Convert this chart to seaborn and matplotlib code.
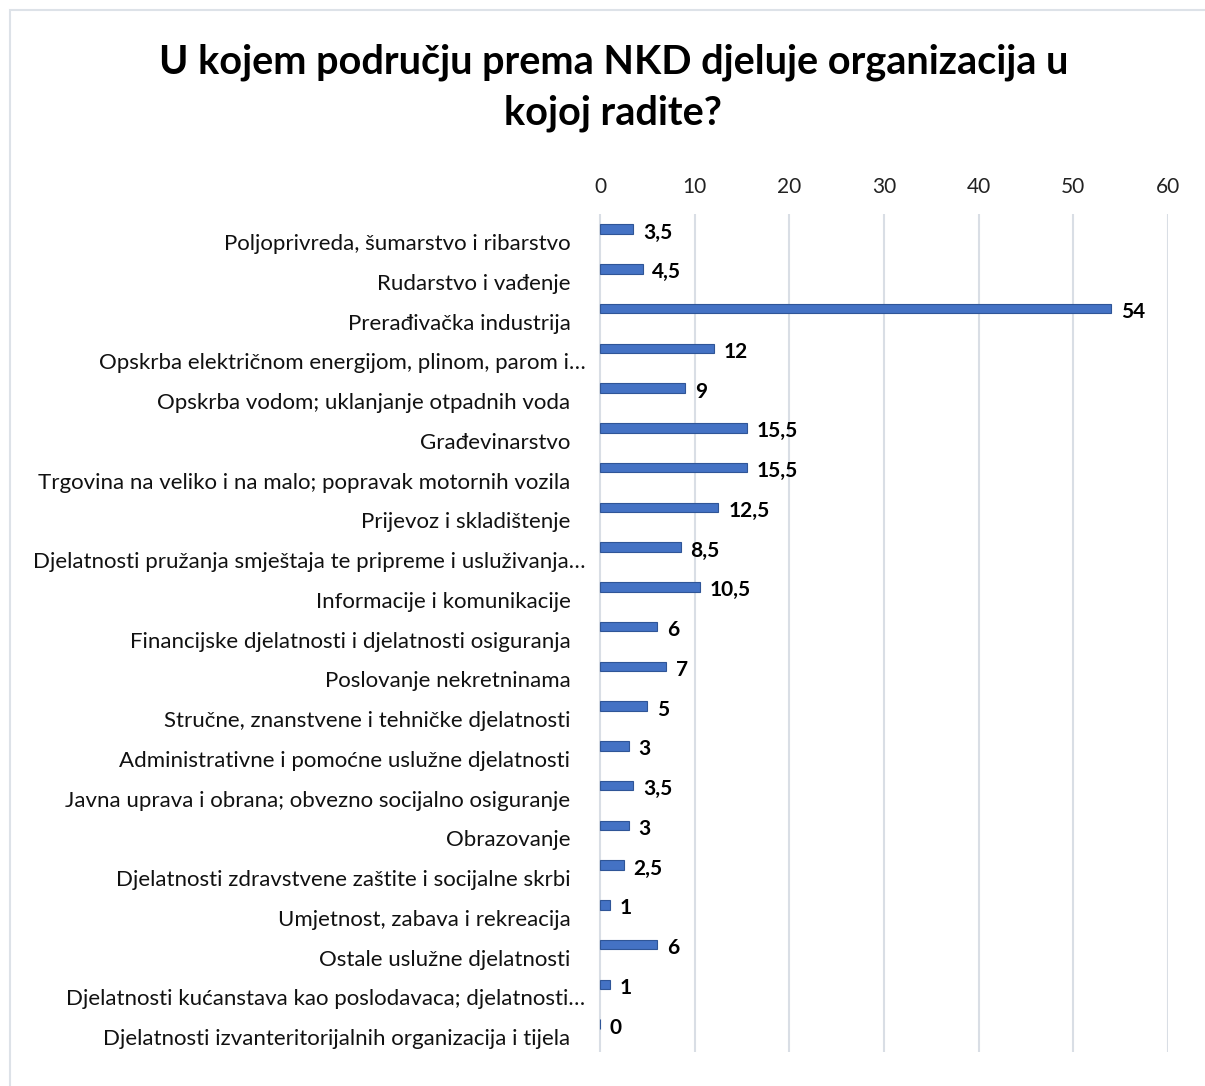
import matplotlib
matplotlib.use("Agg")
import matplotlib.pyplot as plt
import matplotlib.transforms as mtransforms
from matplotlib.patches import Rectangle
import seaborn as sns
import pandas as pd

categories = [
    "Poljoprivreda, šumarstvo i ribarstvo",
    "Rudarstvo i vađenje",
    "Prerađivačka industrija",
    "Opskrba električnom energijom, plinom, parom i…",
    "Opskrba vodom; uklanjanje otpadnih voda",
    "Građevinarstvo",
    "Trgovina na veliko i na malo; popravak motornih vozila",
    "Prijevoz i skladištenje",
    "Djelatnosti pružanja smještaja te pripreme i usluživanja…",
    "Informacije i komunikacije",
    "Financijske djelatnosti i djelatnosti osiguranja",
    "Poslovanje nekretninama",
    "Stručne, znanstvene i tehničke djelatnosti",
    "Administrativne i pomoćne uslužne djelatnosti",
    "Javna uprava i obrana; obvezno socijalno osiguranje",
    "Obrazovanje",
    "Djelatnosti zdravstvene zaštite i socijalne skrbi",
    "Umjetnost, zabava i rekreacija",
    "Ostale uslužne djelatnosti",
    "Djelatnosti kućanstava kao poslodavaca; djelatnosti…",
    "Djelatnosti izvanteritorijalnih organizacija i tijela",
]
values = [3.5, 4.5, 54, 12, 9, 15.5, 15.5, 12.5, 8.5, 10.5, 6, 7, 5, 3, 3.5, 3, 2.5, 1, 6, 1, 0]
x_ticks = [0, 10, 20, 30, 40, 50, 60]
title = "U kojem području prema NKD djeluje organizacija u\nkojoj radite?"

sns.set_theme(style="white")
plt.rcParams["font.family"] = ["Lato", "DejaVu Sans"]

W, H = 1205, 1086
fig = plt.figure(figsize=(W / 100, H / 100), dpi=100)

# border
fig.patches.append(Rectangle((10 / W, -0.01), 1.02, (H - 10) / H + 0.01,
                             transform=fig.transFigure, fill=False,
                             edgecolor="#DDE2E8", linewidth=1.5))

ax_left, ax_right = 594, 1168
ax_top, ax_bottom = 214, 1052
ax = fig.add_axes([ax_left / W, 1 - ax_bottom / H, (ax_right - ax_left) / W, (ax_bottom - ax_top) / H])

df = pd.DataFrame({"cat": categories, "val": values})
sns.barplot(data=df, y="cat", x="val", orient="h", ax=ax, color="#4472C4",
            width=0.24, edgecolor="#2F5597", linewidth=0.8, saturation=1)

ax.set_xlim(-0.65, 60)
ax.set_ylim(20.7, -0.38)
ax.set_xlabel("")
ax.set_ylabel("")

for xv in x_ticks:
    ax.axvline(xv, color="#D9DEE5", linewidth=1.5, zorder=0)

ax.xaxis.tick_top()
ax.set_xticks(x_ticks)
ax.set_xticklabels([str(t) for t in x_ticks], fontsize=15, color="#222222")
ax.tick_params(axis="x", length=0, pad=12)
ax.tick_params(axis="y", length=0, pad=17)
for lab in ax.get_yticklabels():
    lab.set_fontsize(16)
    lab.set_color("#111111")
    dx = 15 / 100 if lab.get_text().endswith("…") else 0
    lab.set_transform(lab.get_transform() + mtransforms.ScaledTranslation(dx, -13 / 100, fig.dpi_scale_trans))

for s in ax.spines.values():
    s.set_visible(False)

for i, v in enumerate(values):
    txt = ("%g" % v).replace(".", ",")
    ax.annotate(txt, xy=(v, i), xytext=(7, -2.5), textcoords="offset points",
                ha="left", va="center", fontsize=15, fontweight="bold", color="#000000")

fig.text(0.509, 1 - 88 / H, title, ha="center", va="center", fontsize=28.5,
         fontweight="bold", color="#000000", linespacing=1.45)

fig.savefig("out.png", dpi=100, facecolor="white")
